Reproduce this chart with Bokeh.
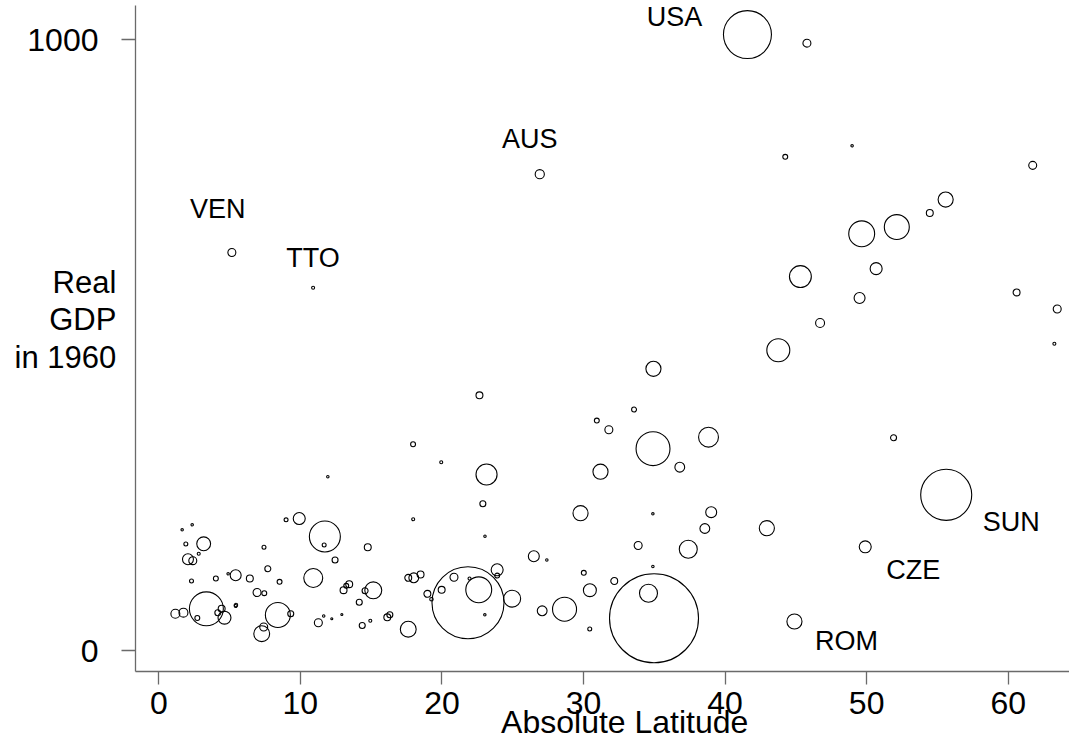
from bokeh.plotting import figure
from bokeh.models import ColumnDataSource, FixedTicker
from bokeh.core.properties import value
from bokeh.embed import file_html
from bokeh.resources import INLINE
import numpy as np

# ---- data ----
# absolute latitude (degrees), real GDP in 1960 (index units), population (millions)
latitude = [
    41.58, 45.78, 26.91, 44.25, 48.97, 61.73, 55.58, 54.46, 52.13, 49.65,
    50.67, 45.32, 49.50, 60.59, 63.46, 63.26, 46.71, 43.76, 34.94,
    5.16, 10.90,
    1.65, 2.36, 1.91, 3.17, 2.82, 2.06, 2.40, 2.31, 4.03, 4.90,
    5.43, 6.43, 7.43, 7.70, 8.53, 9.92, 8.99, 11.73, 11.68, 12.45,
    10.91, 6.94, 7.45, 3.36, 1.17, 1.74, 2.72, 4.17, 4.44, 4.64,
    5.43, 5.45, 8.41, 9.32, 7.27, 7.41, 11.27, 11.65, 12.22, 11.94,
    13.05, 13.24, 13.45, 12.93, 14.76, 14.16, 14.57, 15.15, 14.37, 14.94,
    16.14, 16.32, 17.62, 17.96, 17.97, 19.95, 22.65, 23.15, 22.89, 23.04,
    23.90, 23.90, 17.62, 18.01, 18.49, 20.85, 21.95, 22.60, 19.98, 18.97,
    19.26, 24.96, 21.84, 23.03,
    26.49, 27.41, 27.08, 28.66, 29.79, 30.02, 30.45, 30.44, 32.17, 33.86,
    34.90, 34.90, 34.59, 34.98, 37.40, 38.57, 39.02, 31.20, 30.94, 31.79,
    33.57, 34.91, 38.83, 36.80,
    44.90, 49.90, 55.62, 51.90, 42.95,
]
gdp1960 = [
    1008, 994, 779.5, 808, 826, 794, 738, 716, 693, 682,
    625, 612, 577, 586, 559, 502, 536, 491.5, 461,
    651.4, 593.6,
    197.5, 205.7, 174.3, 174.6, 158.4, 149.3, 147.0, 113.7, 117.8, 125.5,
    123.1, 117.8, 169.0, 133.7, 112.4, 216.0, 213.9, 186.6, 172.7, 148.1,
    118.7, 94.9, 93.8, 68.2, 60.1, 61.9, 53.2, 61.9, 68.4, 53.7,
    72.8, 74.4, 58.1, 60.1, 27.5, 38.5, 45.5, 56.5, 51.9, 284.3,
    98.7, 105.9, 108.5, 58.9, 169.0, 79.0, 97.9, 98.5, 40.9, 48.6,
    54.3, 58.6, 34.9, 337.6, 214.9, 308.2, 417.7, 288.1, 240.1, 187.1,
    132.1, 122.7, 119.0, 119.0, 124.4, 119.8, 117.8, 99.3, 99.3, 92.8,
    84.0, 84.8, 78.2, 58.4,
    154.3, 148.1, 65.0, 67.6, 224.7, 127.2, 98.7, 35.2, 113.7, 171.8,
    223.7, 137.5, 93.8, 52.7, 165.6, 199.7, 226.4, 292.6, 376.4, 361.2,
    394.4, 330.3, 349.1, 300.0,
    47.5, 169.7, 254.8, 348.1, 200.2,
]
population = [
    192, 5.3, 7, 2, 0.5, 5.3, 19, 4, 52, 56,
    12, 40, 10, 4, 5.3, 0.75, 6.7, 44, 19,
    5.3, 0.75,
    0.5, 0.5, 1.3, 16, 0.75, 10, 5.3, 1.3, 2, 0.5,
    10, 4, 1.3, 3, 2, 12, 1.3, 80, 1.3, 3,
    30, 5.3, 2, 96, 6.7, 6.7, 2, 3, 4, 14,
    0.75, 1.0, 52, 3, 21, 5.3, 5.3, 0.5, 0.35, 0.5,
    4, 2, 4, 0.35, 4, 3, 3, 24, 3, 0.75,
    4, 3, 21, 2, 0.75, 0.75, 4, 37, 3, 0.5,
    12, 2, 4, 8, 4, 5.3, 0.75, 56, 4, 4,
    1.0, 24, 432, 0.5,
    10, 0.5, 8, 48, 19, 2, 14, 1.3, 4, 5.3,
    0.5, 0.5, 27, 660, 27, 8, 10, 19, 2, 5.3,
    2, 96, 33, 8,
    19, 12, 217, 3, 19,
]
codes = [""] * len(latitude)
codes[0] = "USA"
codes[2] = "AUS"
codes[19] = "VEN"
codes[20] = "TTO"
codes[-5] = "ROM"
codes[-4] = "CZE"
codes[-3] = "SUN"

x_ticks = [0, 10, 20, 30, 40, 50, 60]
y_ticks = [0, 1000]

# ---- layout / style ----
W, H = 1069, 745
FL, FR, FT, FB = 135, 1069, 5, 671          # frame edges in pixels
X_ZERO_PX, X_PX_PER_UNIT = 158.3, 14.157
Y_ZERO_PX, Y_PX_PER_UNIT = 650.0, 0.611
X0 = (FL - X_ZERO_PX) / X_PX_PER_UNIT
X1 = (FR - X_ZERO_PX) / X_PX_PER_UNIT
Y0 = (Y_ZERO_PX - FB) / Y_PX_PER_UNIT
Y1 = (Y_ZERO_PX - FT) / Y_PX_PER_UNIT
FONT = "Liberation Sans"
AX_COL = "#6a6a6a"

label_offsets = {  # (dx, dy) in screen pixels, y down
    "USA": (-73, -18), "AUS": (-10, -35), "VEN": (-14, -43), "TTO": (0, -30),
    "SUN": (65, 27), "CZE": (48, 23), "ROM": (52, 20),
}

diam = 3.464 * np.sqrt(np.array(population))
src = ColumnDataSource(dict(x=latitude, y=gdp1960, size=diam))

p = figure(width=W, height=H, x_range=(X0, X1), y_range=(Y0, Y1),
           output_backend="svg", toolbar_location=None,
           min_border_left=FL, min_border_right=W - FR,
           min_border_top=FT, min_border_bottom=H - FB)
p.outline_line_color = None
p.xgrid.visible = False
p.ygrid.visible = False
p.background_fill_color = "white"
p.border_fill_color = "white"

p.scatter("x", "y", size="size", source=src, marker="circle",
          fill_color=None, line_color="black", line_width=1.1)

lab = [(latitude[i], gdp1960[i], c) for i, c in enumerate(codes) if c]
lsrc = ColumnDataSource(dict(
    x=[l[0] for l in lab], y=[l[1] for l in lab], t=[l[2] for l in lab],
    dx=[label_offsets[l[2]][0] for l in lab],
    dy=[label_offsets[l[2]][1] for l in lab]))
p.text("x", "y", text="t", x_offset="dx", y_offset="dy", source=lsrc,
       text_font=value(FONT), text_font_size="27px", text_color="black",
       text_align="center", text_baseline="middle")

for ax, ticks, tick_len, standoff in ((p.xaxis[0], x_ticks, 13, 7),
                                      (p.yaxis[0], y_ticks, 14, 23)):
    ax.ticker = FixedTicker(ticks=ticks)
    ax.axis_line_color = AX_COL
    ax.axis_line_width = 1.3
    ax.major_tick_line_color = AX_COL
    ax.major_tick_line_width = 1.3
    ax.major_tick_out = tick_len
    ax.major_tick_in = 0
    ax.minor_tick_line_color = None
    ax.major_label_text_font = FONT
    ax.major_label_text_font_size = "32px"
    ax.major_label_text_color = "black"
    ax.major_label_standoff = standoff
    ax.axis_label_text_font = FONT
    ax.axis_label_text_font_style = "normal"
    ax.axis_label_text_color = "black"
p.yaxis[0].major_label_orientation = "horizontal"

xa = p.xaxis[0]
xa.axis_label = "\u00a0" * 5 + "Absolute Latitude"
xa.axis_label_text_font_size = "32px"
xa.axis_label_standoff = -13

ya = p.yaxis[0]
ya.axis_label = "Real\nGDP\nin 1960\n\u00a0"
ya.axis_label_orientation = "horizontal"
ya.axis_label_text_font_size = "31px"
ya.axis_label_text_align = "right"
ya.axis_label_text_line_height = 1.07
ya.axis_label_standoff = -92

open("out.html", "w").write(file_html(p, INLINE))
